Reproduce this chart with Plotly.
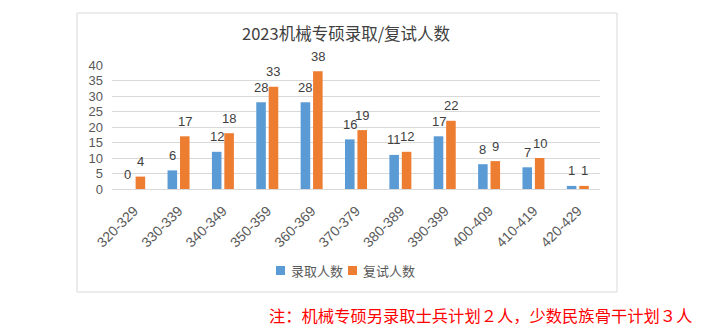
import plotly.graph_objects as go

categories = ["320-329", "330-339", "340-349", "350-359", "360-369", "370-379",
              "380-389", "390-399", "400-409", "410-419", "420-429"]
admitted = [0, 6, 12, 28, 28, 16, 11, 17, 8, 7, 1]
interviewed = [4, 17, 18, 33, 38, 19, 12, 22, 9, 10, 1]
series_names = ["录取人数", "复试人数"]
y_ticks = [0, 5, 10, 15, 20, 25, 30, 35, 40]

title_text = "2023机械专硕录取/复试人数"
note_text = "注：机械专硕另录取士兵计划２人，少数民族骨干计划３人"

FONT = "Liberation Sans, Arial, Noto Sans CJK SC, sans-serif"
CJK = "Noto Sans CJK SC, sans-serif"

# plot area in pixels
L, R, T, B = 112, 600, 65, 189
W, H = 701, 334
pw, ph = R - L, B - T
BARGAP, GROUPGAP = 0.44, 0.23

def px_x(x):
    return (x - L) / pw

def px_y(y):
    return (B - y) / ph

fig = go.Figure()
colors = ["#5B9BD5", "#ED7D31"]
all_series = [admitted, interviewed]
for name, vals, color in zip(series_names, all_series, colors):
    fig.add_trace(go.Bar(
        x=categories, y=vals, name=name,
        marker=dict(color=color, line=dict(width=0)),
        hoverinfo="x+y+name", showlegend=False,
    ))

# data labels above each bar
cat_w = pw / len(categories)
slot = cat_w * (1 - BARGAP) / 2
annotations = []
for si, vals in enumerate(all_series):
    shift = (si - 0.5) * slot
    for c, v in zip(categories, vals):
        annotations.append(dict(
            x=c, y=v, xref="x", yref="y", text=str(v), showarrow=False,
            xanchor="center", yanchor="middle", xshift=shift, yshift=15,
            font=dict(family=FONT, size=13, color="#404040")))

annotations += [
    dict(text=title_text, xref="paper", yref="paper", x=px_x(346), y=px_y(33),
         xanchor="center", yanchor="middle", showarrow=False,
         font=dict(family=CJK, size=16.5, color="#404040")),
    dict(text=note_text, xref="paper", yref="paper", x=px_x(694), y=px_y(315),
         xanchor="right", yanchor="middle", showarrow=False,
         font=dict(family=CJK, size=16.3, color="#ff0000")),
]

# manual legend (swatch + label)
shapes = [dict(type="rect", xref="paper", yref="paper",
               x0=px_x(77), x1=px_x(617), y0=px_y(292), y1=px_y(13),
               line=dict(color="#d9d9d9", width=1), fillcolor="rgba(0,0,0,0)",
               layer="below")]
legend_x = [276, 348]
for name, color, lx in zip(series_names, colors, legend_x):
    shapes.append(dict(type="rect", xref="paper", yref="paper",
                       x0=px_x(lx), x1=px_x(lx + 9), y0=px_y(275), y1=px_y(266),
                       line=dict(width=0), fillcolor=color))
    annotations.append(dict(text=name, xref="paper", yref="paper",
                            x=px_x(lx + 13), y=px_y(270.5), xanchor="left",
                            yanchor="middle", showarrow=False,
                            font=dict(family=CJK, size=13, color="#595959")))

fig.update_layout(
    width=W, height=H,
    margin=dict(l=L, r=W - R, t=T, b=H - B, pad=0),
    paper_bgcolor="white", plot_bgcolor="white",
    barmode="group", bargap=BARGAP, bargroupgap=GROUPGAP,
    showlegend=False,
    xaxis=dict(tickangle=-45, tickfont=dict(family=FONT, size=14, color="#595959"),
               showgrid=False, showline=False, ticks="", ticklen=0,
               ticklabelstandoff=10),
    yaxis=dict(range=[0, 40], tickvals=y_ticks, showgrid=True, gridcolor="#d9d9d9",
               gridwidth=1, zeroline=True, zerolinecolor="#d9d9d9", zerolinewidth=1,
               tickfont=dict(family=FONT, size=13, color="#595959"),
               ticks="", showline=False, ticklabelstandoff=8),
    shapes=shapes,
    annotations=annotations,
)

fig.write_html("out.html")
